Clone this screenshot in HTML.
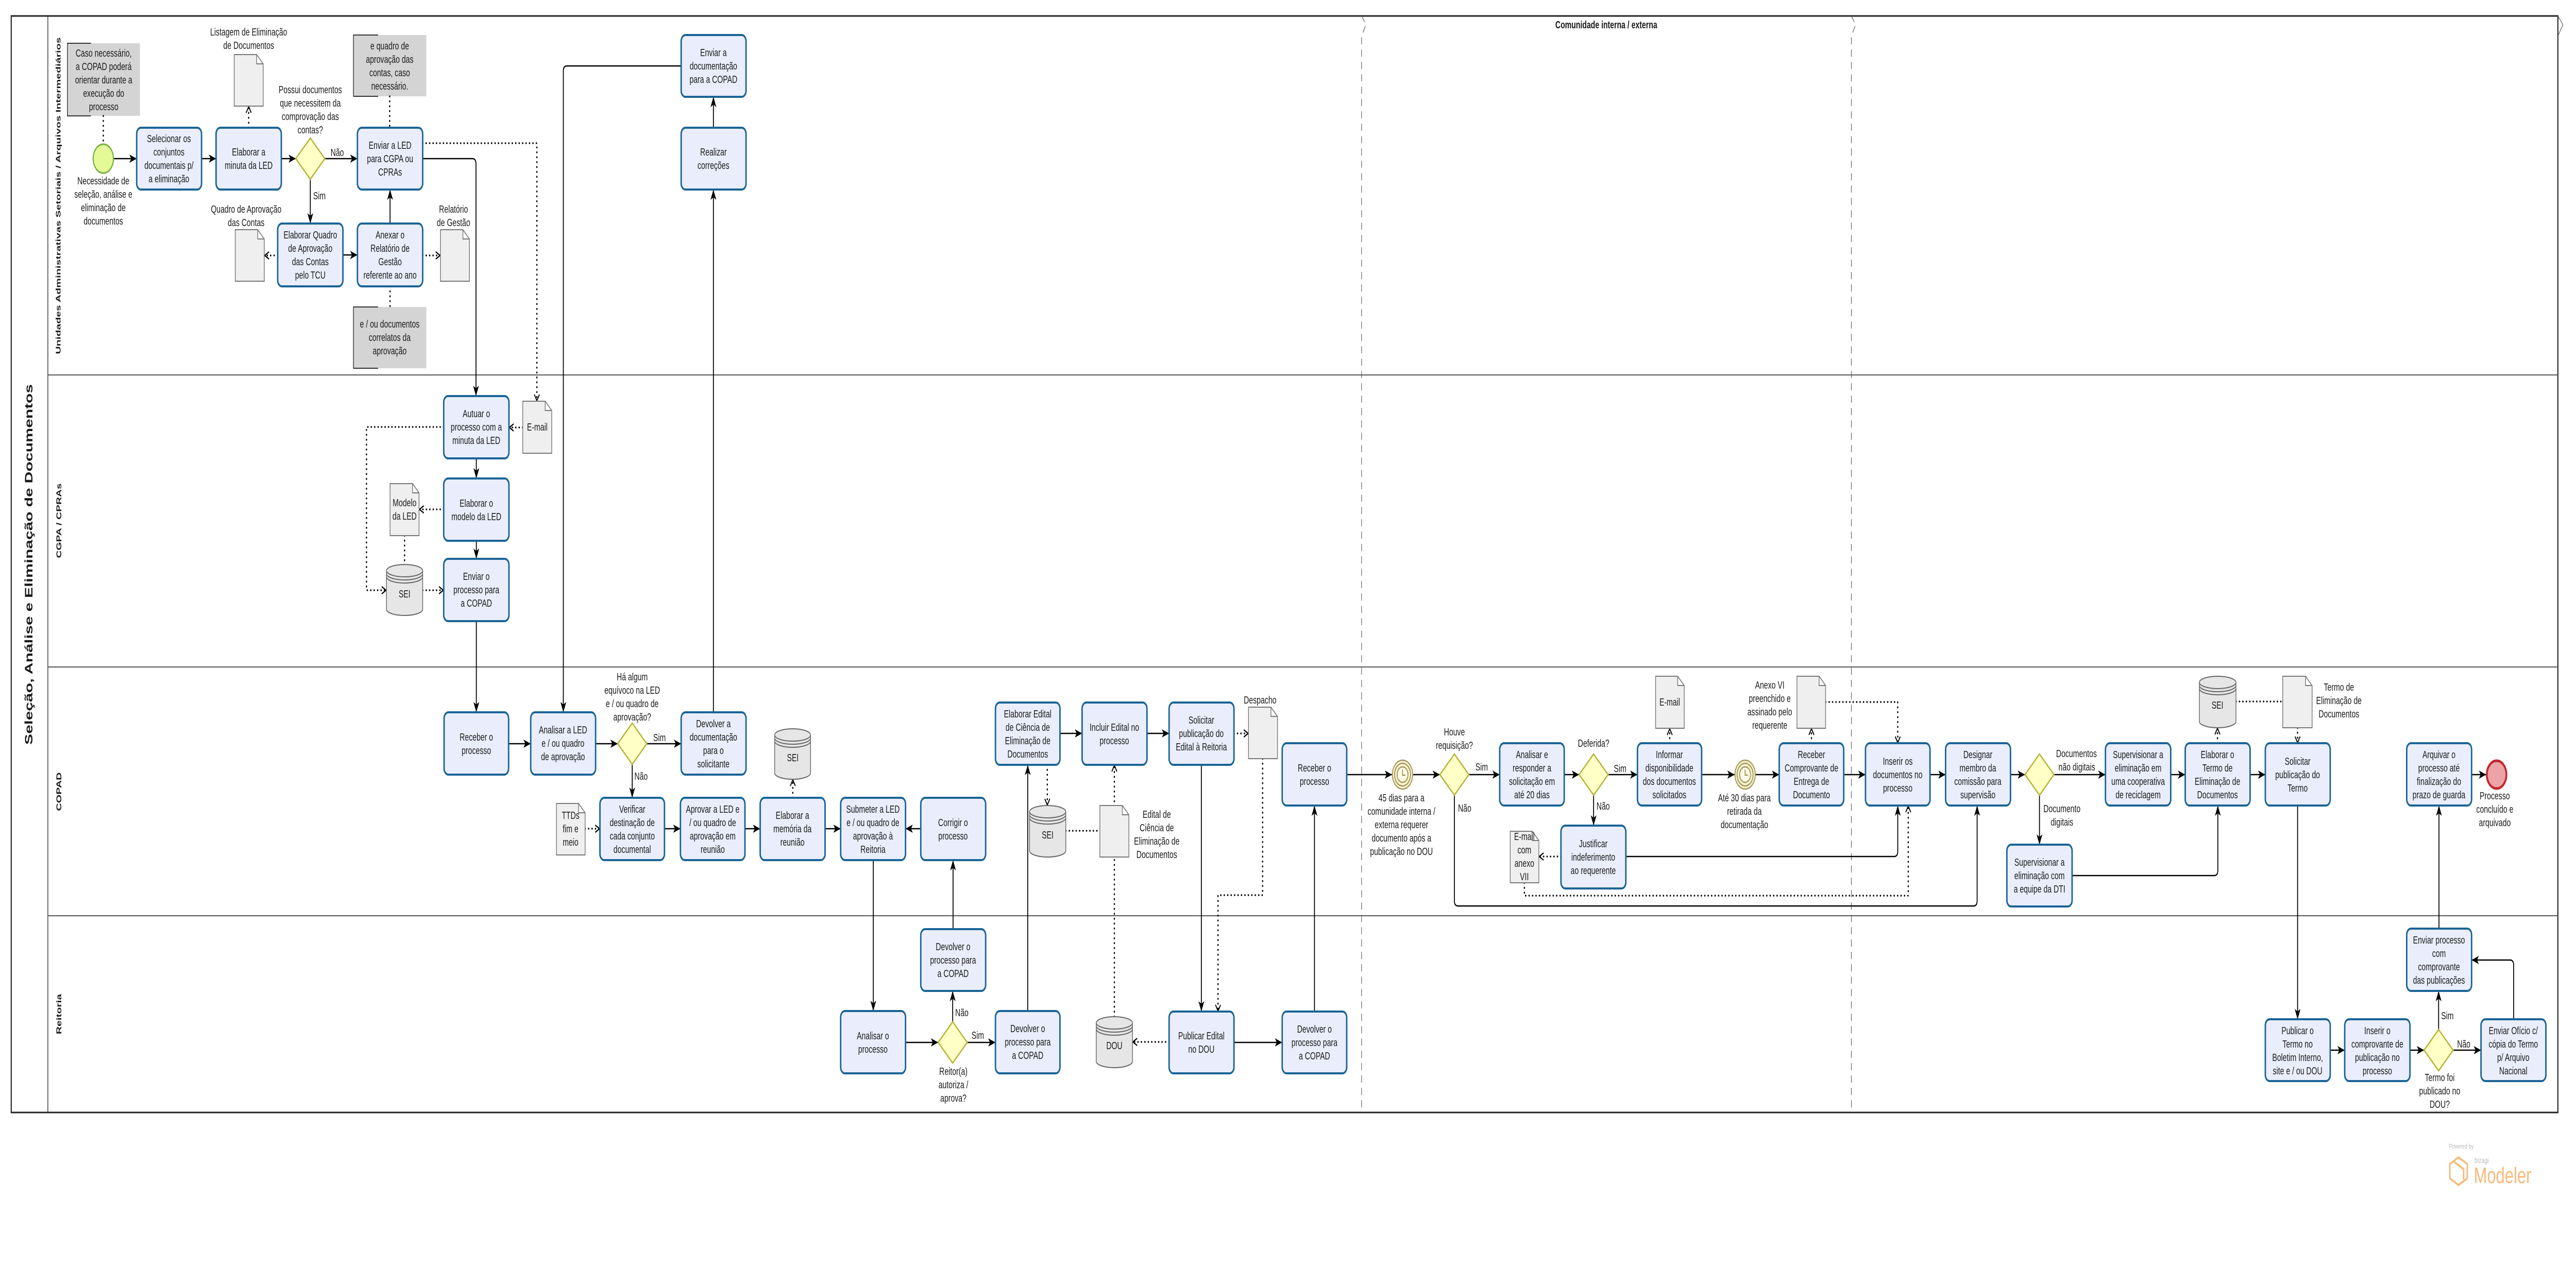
<!DOCTYPE html>
<html><head><meta charset="utf-8"><style>
html,body{margin:0;padding:0;background:#fff;overflow:hidden;width:100%;height:100%}
svg{display:block;width:100vw;height:100vh}
text{font-family:"Liberation Sans",Arial,sans-serif;fill:#1a1a1a}
.t{font-size:20px;text-anchor:middle}
.l{font-size:20px}
.task{fill:#eaeefc;stroke:#1a6496;stroke-width:4}
.gw{fill:#ffffc6;stroke:#b3b232;stroke-width:3}
.doc{fill:#efefef;stroke:#777;stroke-width:2}
.cyl{fill:#e6e6e6;stroke:#666;stroke-width:2}
.f{fill:none;stroke:#000;stroke-width:2.5;marker-end:url(#a)}
.d{fill:none;stroke:#000;stroke-width:3.5;stroke-dasharray:0.5,9;stroke-linecap:round}
.da{fill:none;stroke:#000;stroke-width:3.5;stroke-dasharray:0.5,9;stroke-linecap:round;marker-end:url(#o)}
.ann{fill:#d4d4d4}
.br{fill:none;stroke:#333;stroke-width:2}
</style></head><body>
<svg width="7106" height="2460" viewBox="0 0 7106 2460" preserveAspectRatio="none" xmlns="http://www.w3.org/2000/svg">
<defs>
<marker id="a" viewBox="0 0 20 16" refX="20" refY="8" markerWidth="20" markerHeight="16" markerUnits="userSpaceOnUse" orient="auto"><path d="M0,0 L20,8 L0,16 L5,8z" fill="#000"/></marker>
<marker id="o" viewBox="0 0 14 16" refX="13" refY="8" markerWidth="14" markerHeight="16" markerUnits="userSpaceOnUse" orient="auto"><path d="M1,1 L13,8 L1,15" fill="none" stroke="#000" stroke-width="2.5"/></marker>
</defs>

<rect x="31" y="31" width="7025" height="2129" fill="#fff" stroke="#222" stroke-width="3"/>
<line x1="132" y1="31" x2="132" y2="2160" stroke="#333" stroke-width="2"/>
<g stroke="#555" stroke-width="2">
<line x1="132" y1="728" x2="7056" y2="728"/>
<line x1="132" y1="1295" x2="7056" y2="1295"/>
<line x1="132" y1="1778" x2="7056" y2="1778"/>
</g>
<text transform="translate(80,1096) rotate(-90)" text-anchor="middle" dominant-baseline="central" font-size="30" font-weight="bold" textLength="700" lengthAdjust="spacingAndGlyphs">Seleção, Análise e Eliminação de Documentos</text>
<g font-weight="bold" text-anchor="middle" dominant-baseline="central">
<text transform="translate(162,380) rotate(-90)" font-size="18" textLength="615" lengthAdjust="spacingAndGlyphs">Unidades Administrativas Setoriais / Arquivos Intermediários</text>
<text transform="translate(162,1011) rotate(-90)" font-size="20" textLength="145" lengthAdjust="spacingAndGlyphs">CGPA / CPRAs</text>
<text transform="translate(162,1537) rotate(-90)" font-size="20" textLength="75" lengthAdjust="spacingAndGlyphs">COPAD</text>
<text transform="translate(162,1969) rotate(-90)" font-size="20" textLength="78" lengthAdjust="spacingAndGlyphs">Reitoria</text>
</g>

<g fill="none" stroke="#555" stroke-width="1.5" stroke-dasharray="14,10">
<path d="M3756,31 L3768,48 L3756,70 V2160"/>
<path d="M5107,31 L5119,48 L5107,70 V2160"/>
</g>
<path d="M7056,31 L7070,48 L7056,70" fill="none" stroke="#555" stroke-width="1.5"/>
<text x="4431" y="55" font-size="20" font-weight="bold" text-anchor="middle">Comunidade interna / externa</text>

<rect class="ann" x="186" y="84" width="200" height="141"/>
<path class="br" d="M251,84 H186 V225 H251"/>
<text class="t" y="110"><tspan x="286">Caso necessário,</tspan><tspan x="286" dy="26">a COPAD poderá</tspan><tspan x="286" dy="26">orientar durante a</tspan><tspan x="286" dy="26">execução do</tspan><tspan x="286" dy="26">processo</tspan></text>
<rect class="ann" x="975" y="68" width="201" height="119"/>
<path class="br" d="M1043,68 H975 V187 H1043"/>
<text class="t" y="96"><tspan x="1075">e quadro de</tspan><tspan x="1075" dy="26">aprovação das</tspan><tspan x="1075" dy="26">contas, caso</tspan><tspan x="1075" dy="26">necessário.</tspan></text>
<rect class="ann" x="975" y="596" width="201" height="119"/>
<path class="br" d="M1043,596 H975 V715 H1043"/>
<text class="t" y="636"><tspan x="1075">e / ou documentos</tspan><tspan x="1075" dy="26">correlatos da</tspan><tspan x="1075" dy="26">aprovação</tspan></text>

<path class="d" d="M285,225 V279"/>
<path class="da" d="M686,248 V207"/>
<path class="d" d="M1075,187 V248"/>
<path class="da" d="M766,496 H730"/>
<path class="da" d="M1166,496 H1214"/>
<path class="d" d="M1076,556 V596"/>
<path class="da" d="M1166,278 H1481 V778"/>
<path class="da" d="M1442,830 H1405"/>
<path class="da" d="M1224,989 H1157"/>
<path class="d" d="M1116,1040 V1096"/>
<path class="da" d="M1224,829 H1011 V1146 H1065"/>
<path class="da" d="M1166,1146 H1223"/>
<path class="da" d="M1614,1609 H1654"/>
<path class="da" d="M2187,1549 V1514"/>
<path class="da" d="M2889,1485 V1563"/>
<path class="d" d="M2940,1613 H3034"/>
<path class="da" d="M3074,1974 V1486"/>
<path class="da" d="M3404,1424 H3443"/>
<path class="da" d="M3483,1473 V1738 H3360 V1963"/>
<path class="da" d="M3225,2023 H3125"/>
<path class="da" d="M4606,1443 V1415"/>
<path class="da" d="M4997,1443 V1415"/>
<path class="da" d="M5036,1363 H5235 V1442"/>
<path class="da" d="M4306,1663 H4246"/>
<path class="da" d="M4205,1714 V1739 H5264 V1565"/>
<path class="da" d="M6117,1443 V1414"/>
<path class="d" d="M6168,1362 H6297"/>
<path class="da" d="M6338,1413 V1442"/>

<path class="f" d="M314,308 H377"/>
<path class="f" d="M556,308 H596"/>
<path class="f" d="M776,308 H816"/>
<path class="f" d="M896,308 H986"/>
<path class="f" d="M856,348 V434"/>
<path class="f" d="M946,495 H986"/>
<path class="f" d="M1076,434 V368"/>
<path class="f" d="M1166,308 H1303 Q1313,308 1313,318 V769"/>
<path class="f" d="M1314,890 V929"/>
<path class="f" d="M1314,1050 V1085"/>
<path class="f" d="M1314,1206 V1383"/>
<path class="f" d="M1968,248 V188"/>
<path class="f" d="M1968,1383 V368"/>
<path class="f" d="M1879,128 H1564 Q1554,128 1554,138 V1383"/>
<path class="f" d="M1403,1444 H1464"/>
<path class="f" d="M1643,1444 H1704"/>
<path class="f" d="M1784,1444 H1879"/>
<path class="f" d="M1744,1484 V1549"/>
<path class="f" d="M1833,1609 H1877"/>
<path class="f" d="M2055,1609 H2097"/>
<path class="f" d="M2276,1609 H2319"/>
<path class="f" d="M2540,1609 H2498"/>
<path class="f" d="M2409,1670 V1963"/>
<path class="f" d="M2498,2024 H2588"/>
<path class="f" d="M2628,1984 V1924"/>
<path class="f" d="M2629,1804 V1670"/>
<path class="f" d="M2668,2024 H2746"/>
<path class="f" d="M2835,1963 V1485"/>
<path class="f" d="M2924,1424 H2985"/>
<path class="f" d="M3164,1424 H3225"/>
<path class="f" d="M3314,1485 V1964"/>
<path class="f" d="M3404,2024 H3537"/>
<path class="f" d="M3626,1964 V1564"/>
<path class="f" d="M3715,1504 H3840"/>
<path class="f" d="M3898,1504 H3972"/>
<path class="f" d="M4052,1504 H4137"/>
<path class="f" d="M4315,1504 H4356"/>
<path class="f" d="M4436,1504 H4517"/>
<path class="f" d="M4396,1544 V1603"/>
<path class="f" d="M4694,1504 H4785"/>
<path class="f" d="M4843,1504 H4908"/>
<path class="f" d="M5086,1504 H5146"/>
<path class="f" d="M5324,1504 H5367"/>
<path class="f" d="M4485,1663 H5225 Q5235,1663 5235,1653 V1564"/>
<path class="f" d="M4012,1544 V1749 Q4012,1759 4022,1759 H5444 Q5454,1759 5454,1749 V1564"/>
<path class="f" d="M5546,1504 H5586"/>
<path class="f" d="M5666,1504 H5808"/>
<path class="f" d="M5626,1544 V1640"/>
<path class="f" d="M5988,1504 H6028"/>
<path class="f" d="M6207,1504 H6249"/>
<path class="f" d="M5716,1700 H6108 Q6118,1700 6118,1690 V1564"/>
<path class="f" d="M6338,1564 V1979"/>
<path class="f" d="M6428,2039 H6468"/>
<path class="f" d="M6648,2039 H6687"/>
<path class="f" d="M6767,2039 H6844"/>
<path class="f" d="M6727,1999 V1924"/>
<path class="f" d="M6934,1979 V1874 Q6934,1864 6924,1864 H6818"/>
<path class="f" d="M6728,1803 V1564"/>
<path class="f" d="M6818,1504 H6858"/>

<g class="doc">
<path d="M646,106 h62 l18,18 v82 h-80z M708,106 v18 h18"/>
<path d="M649,446 h62 l18,18 v82 h-80z M711,446 v18 h18"/>
<path d="M1215,446 h62 l18,18 v82 h-80z M1277,446 v18 h18"/>
<path d="M1442,779 h62 l18,18 v83 h-80z M1504,779 v18 h18"/>
<path d="M1076,939 h62 l18,18 v83 h-80z M1138,939 v18 h18"/>
<path d="M1535,1560 h61 l18,18 v82 h-79z M1596,1560 v18 h18"/>
<path d="M3444,1373 h62 l18,18 v82 h-80z M3506,1373 v18 h18"/>
<path d="M3034,1564 h62 l18,18 v82 h-80z M3096,1564 v18 h18"/>
<path d="M4567,1313 h61 l18,18 v83 h-79z M4628,1313 v18 h18"/>
<path d="M4957,1313 h61 l18,18 v83 h-79z M5018,1313 v18 h18"/>
<path d="M4166,1614 h61 l18,18 v82 h-79z M4227,1614 v18 h18"/>
<path d="M6297,1313 h63 l18,18 v82 h-81z M6360,1313 v18 h18"/>
</g>
<text class="t" x="1482" y="836">E-mail</text>
<text class="t" y="983"><tspan x="1116">Modelo</tspan><tspan x="1116" dy="26">da LED</tspan></text>
<text class="t" y="1590"><tspan x="1574">TTDs</tspan><tspan x="1574" dy="26">fim e</tspan><tspan x="1574" dy="26">meio</tspan></text>
<text class="t" x="4606" y="1370">E-mail</text>
<text class="t" y="1631"><tspan x="4205">E-mail</tspan><tspan x="4205" dy="26">com</tspan><tspan x="4205" dy="26">anexo</tspan><tspan x="4205" dy="26">VII</tspan></text>

<g class="cyl">
<path d="M1066,1108 V1183 A50,12 0 0 0 1166,1183 V1108"/><ellipse cx="1116" cy="1108" rx="50" ry="12"/><path d="M1066,1114 A50,12 0 0 0 1166,1114 M1066,1120 A50,12 0 0 0 1166,1120" fill="none"/>
<path d="M2137,1427 V1501 A49.5,12 0 0 0 2236,1501 V1427"/><ellipse cx="2186.5" cy="1427" rx="49.5" ry="12"/><path d="M2137,1433 A49.5,12 0 0 0 2236,1433 M2137,1439 A49.5,12 0 0 0 2236,1439" fill="none"/>
<path d="M2840,1576 V1652 A50,12 0 0 0 2940,1652 V1576"/><ellipse cx="2890" cy="1576" rx="50" ry="12"/><path d="M2840,1582 A50,12 0 0 0 2940,1582 M2840,1588 A50,12 0 0 0 2940,1588" fill="none"/>
<path d="M3024,1986 V2061 A50,12 0 0 0 3124,2061 V1986"/><ellipse cx="3074" cy="1986" rx="50" ry="12"/><path d="M3024,1992 A50,12 0 0 0 3124,1992 M3024,1998 A50,12 0 0 0 3124,1998" fill="none"/>
<path d="M6067,1325 V1401 A50.5,12 0 0 0 6168,1401 V1325"/><ellipse cx="6117.5" cy="1325" rx="50.5" ry="12"/><path d="M6067,1331 A50.5,12 0 0 0 6168,1331 M6067,1337 A50.5,12 0 0 0 6168,1337" fill="none"/>
</g>
<text class="t" x="1116" y="1160">SEI</text>
<text class="t" x="2187" y="1478">SEI</text>
<text class="t" x="2890" y="1628">SEI</text>
<text class="t" x="3074" y="2037">DOU</text>
<text class="t" x="6117" y="1376">SEI</text>

<circle cx="285" cy="308" r="28" fill="#e4fa96" stroke="#72b03c" stroke-width="3"/>
<circle cx="6887" cy="1504" r="27" fill="#eba3a5" stroke="#c1272d" stroke-width="5"/>
<g fill="none" stroke="#a0955a" stroke-width="2.5">
<circle cx="3869" cy="1504" r="28" fill="#f7f2cf"/><circle cx="3869" cy="1504" r="22"/><circle cx="3869" cy="1504" r="15" fill="#fffbe6"/><path d="M3869,1494 V1505 H3877"/>
<circle cx="4814" cy="1504" r="28" fill="#f7f2cf"/><circle cx="4814" cy="1504" r="22"/><circle cx="4814" cy="1504" r="15" fill="#fffbe6"/><path d="M4814,1494 V1505 H4822"/>
</g>

<g class="gw">
<path d="M856,268 L896,308 L856,348 L816,308z"/>
<path d="M1744,1404 L1784,1444 L1744,1484 L1704,1444z"/>
<path d="M2628,1984 L2668,2024 L2628,2064 L2588,2024z"/>
<path d="M4012,1464 L4052,1504 L4012,1544 L3972,1504z"/>
<path d="M4396,1464 L4436,1504 L4396,1544 L4356,1504z"/>
<path d="M5626,1464 L5666,1504 L5626,1544 L5586,1504z"/>
<path d="M6727,1999 L6767,2039 L6727,2079 L6687,2039z"/>
</g>

<g class="task">
<rect x="377" y="248" width="179" height="120" rx="12"/>
<rect x="596" y="248" width="180" height="120" rx="12"/>
<rect x="986" y="248" width="180" height="120" rx="12"/>
<rect x="766" y="434" width="180" height="122" rx="12"/>
<rect x="986" y="434" width="180" height="122" rx="12"/>
<rect x="1224" y="769" width="180" height="121" rx="12"/>
<rect x="1224" y="929" width="180" height="121" rx="12"/>
<rect x="1224" y="1085" width="180" height="121" rx="12"/>
<rect x="1879" y="68" width="179" height="120" rx="12"/>
<rect x="1879" y="248" width="179" height="120" rx="12"/>
<rect x="1225" y="1383" width="178" height="121" rx="12"/>
<rect x="1464" y="1383" width="179" height="121" rx="12"/>
<rect x="1879" y="1383" width="179" height="121" rx="12"/>
<rect x="1655" y="1549" width="178" height="121" rx="12"/>
<rect x="1877" y="1549" width="178" height="121" rx="12"/>
<rect x="2097" y="1549" width="179" height="121" rx="12"/>
<rect x="2319" y="1549" width="179" height="121" rx="12"/>
<rect x="2540" y="1549" width="179" height="121" rx="12"/>
<rect x="2319" y="1963" width="179" height="121" rx="12"/>
<rect x="2540" y="1804" width="179" height="120" rx="12"/>
<rect x="2746" y="1963" width="178" height="121" rx="12"/>
<rect x="2746" y="1364" width="178" height="121" rx="12"/>
<rect x="2985" y="1364" width="179" height="121" rx="12"/>
<rect x="3225" y="1364" width="179" height="121" rx="12"/>
<rect x="3225" y="1964" width="179" height="120" rx="12"/>
<rect x="3537" y="1964" width="178" height="120" rx="12"/>
<rect x="3537" y="1443" width="178" height="121" rx="12"/>
<rect x="4137" y="1443" width="178" height="121" rx="12"/>
<rect x="4517" y="1443" width="177" height="121" rx="12"/>
<rect x="4908" y="1443" width="178" height="121" rx="12"/>
<rect x="5146" y="1443" width="178" height="121" rx="12"/>
<rect x="5367" y="1443" width="179" height="121" rx="12"/>
<rect x="4306" y="1603" width="179" height="122" rx="12"/>
<rect x="5808" y="1443" width="180" height="121" rx="12"/>
<rect x="6028" y="1443" width="179" height="121" rx="12"/>
<rect x="6249" y="1443" width="179" height="121" rx="12"/>
<rect x="5536" y="1640" width="180" height="120" rx="12"/>
<rect x="6639" y="1443" width="179" height="121" rx="12"/>
<rect x="6249" y="1979" width="179" height="120" rx="12"/>
<rect x="6468" y="1979" width="180" height="120" rx="12"/>
<rect x="6844" y="1979" width="179" height="120" rx="12"/>
<rect x="6639" y="1803" width="179" height="121" rx="12"/>
</g>

<text class="t" y="276"><tspan x="466">Selecionar os</tspan><tspan x="466" dy="26">conjuntos</tspan><tspan x="466" dy="26">documentais p/</tspan><tspan x="466" dy="26">a eliminação</tspan></text>
<text class="t" y="302"><tspan x="686">Elaborar a</tspan><tspan x="686" dy="26">minuta da LED</tspan></text>
<text class="t" y="289"><tspan x="1076">Enviar a LED</tspan><tspan x="1076" dy="26">para CGPA ou</tspan><tspan x="1076" dy="26">CPRAs</tspan></text>
<text class="t" y="463"><tspan x="856">Elaborar Quadro</tspan><tspan x="856" dy="26">de Aprovação</tspan><tspan x="856" dy="26">das Contas</tspan><tspan x="856" dy="26">pelo TCU</tspan></text>
<text class="t" y="463"><tspan x="1076">Anexar o</tspan><tspan x="1076" dy="26">Relatório de</tspan><tspan x="1076" dy="26">Gestão</tspan><tspan x="1076" dy="26">referente ao ano</tspan></text>
<text class="t" y="810"><tspan x="1314">Autuar o</tspan><tspan x="1314" dy="26">processo com a</tspan><tspan x="1314" dy="26">minuta da LED</tspan></text>
<text class="t" y="984"><tspan x="1314">Elaborar o</tspan><tspan x="1314" dy="26">modelo da LED</tspan></text>
<text class="t" y="1126"><tspan x="1314">Enviar o</tspan><tspan x="1314" dy="26">processo para</tspan><tspan x="1314" dy="26">a COPAD</tspan></text>
<text class="t" y="109"><tspan x="1968">Enviar a</tspan><tspan x="1968" dy="26">documentação</tspan><tspan x="1968" dy="26">para a COPAD</tspan></text>
<text class="t" y="302"><tspan x="1968">Realizar</tspan><tspan x="1968" dy="26">correções</tspan></text>
<text class="t" y="1438"><tspan x="1314">Receber o</tspan><tspan x="1314" dy="26">processo</tspan></text>
<text class="t" y="1424"><tspan x="1553">Analisar a LED</tspan><tspan x="1553" dy="26">e / ou quadro</tspan><tspan x="1553" dy="26">de aprovação</tspan></text>
<text class="t" y="1412"><tspan x="1968">Devolver a</tspan><tspan x="1968" dy="26">documentação</tspan><tspan x="1968" dy="26">para o</tspan><tspan x="1968" dy="26">solicitante</tspan></text>
<text class="t" y="1578"><tspan x="1744">Verificar</tspan><tspan x="1744" dy="26">destinação de</tspan><tspan x="1744" dy="26">cada conjunto</tspan><tspan x="1744" dy="26">documental</tspan></text>
<text class="t" y="1578"><tspan x="1966">Aprovar a LED e</tspan><tspan x="1966" dy="26">/ ou quadro de</tspan><tspan x="1966" dy="26">aprovação em</tspan><tspan x="1966" dy="26">reunião</tspan></text>
<text class="t" y="1590"><tspan x="2186">Elaborar a</tspan><tspan x="2186" dy="26">memória da</tspan><tspan x="2186" dy="26">reunião</tspan></text>
<text class="t" y="1578"><tspan x="2408">Submeter a LED</tspan><tspan x="2408" dy="26">e / ou quadro de</tspan><tspan x="2408" dy="26">aprovação à</tspan><tspan x="2408" dy="26">Reitoria</tspan></text>
<text class="t" y="1604"><tspan x="2629">Corrigir o</tspan><tspan x="2629" dy="26">processo</tspan></text>
<text class="t" y="2018"><tspan x="2408">Analisar o</tspan><tspan x="2408" dy="26">processo</tspan></text>
<text class="t" y="1845"><tspan x="2629">Devolver o</tspan><tspan x="2629" dy="26">processo para</tspan><tspan x="2629" dy="26">a COPAD</tspan></text>
<text class="t" y="2004"><tspan x="2835">Devolver o</tspan><tspan x="2835" dy="26">processo para</tspan><tspan x="2835" dy="26">a COPAD</tspan></text>
<text class="t" y="1393"><tspan x="2835">Elaborar Edital</tspan><tspan x="2835" dy="26">de Ciência de</tspan><tspan x="2835" dy="26">Eliminação de</tspan><tspan x="2835" dy="26">Documentos</tspan></text>
<text class="t" y="1419"><tspan x="3074">Incluir Edital no</tspan><tspan x="3074" dy="26">processo</tspan></text>
<text class="t" y="1405"><tspan x="3314">Solicitar</tspan><tspan x="3314" dy="26">publicação do</tspan><tspan x="3314" dy="26">Edital à Reitoria</tspan></text>
<text class="t" y="2018"><tspan x="3314">Publicar Edital</tspan><tspan x="3314" dy="26">no DOU</tspan></text>
<text class="t" y="2005"><tspan x="3626">Devolver o</tspan><tspan x="3626" dy="26">processo para</tspan><tspan x="3626" dy="26">a COPAD</tspan></text>
<text class="t" y="1498"><tspan x="3626">Receber o</tspan><tspan x="3626" dy="26">processo</tspan></text>
<text class="t" y="1472"><tspan x="4226">Analisar e</tspan><tspan x="4226" dy="26">responder a</tspan><tspan x="4226" dy="26">solicitação em</tspan><tspan x="4226" dy="26">até 20 dias</tspan></text>
<text class="t" y="1472"><tspan x="4605">Informar</tspan><tspan x="4605" dy="26">disponibilidade</tspan><tspan x="4605" dy="26">dos documentos</tspan><tspan x="4605" dy="26">solicitados</tspan></text>
<text class="t" y="1472"><tspan x="4997">Receber</tspan><tspan x="4997" dy="26">Comprovante de</tspan><tspan x="4997" dy="26">Entrega de</tspan><tspan x="4997" dy="26">Documento</tspan></text>
<text class="t" y="1485"><tspan x="5235">Inserir os</tspan><tspan x="5235" dy="26">documentos no</tspan><tspan x="5235" dy="26">processo</tspan></text>
<text class="t" y="1472"><tspan x="5456">Designar</tspan><tspan x="5456" dy="26">membro da</tspan><tspan x="5456" dy="26">comissão para</tspan><tspan x="5456" dy="26">supervisão</tspan></text>
<text class="t" y="1645"><tspan x="4395">Justificar</tspan><tspan x="4395" dy="26">indeferimento</tspan><tspan x="4395" dy="26">ao requerente</tspan></text>
<text class="t" y="1472"><tspan x="5898">Supervisionar a</tspan><tspan x="5898" dy="26">eliminação em</tspan><tspan x="5898" dy="26">uma cooperativa</tspan><tspan x="5898" dy="26">de reciclagem</tspan></text>
<text class="t" y="1472"><tspan x="6117">Elaborar o</tspan><tspan x="6117" dy="26">Termo de</tspan><tspan x="6117" dy="26">Eliminação de</tspan><tspan x="6117" dy="26">Documentos</tspan></text>
<text class="t" y="1485"><tspan x="6338">Solicitar</tspan><tspan x="6338" dy="26">publicação do</tspan><tspan x="6338" dy="26">Termo</tspan></text>
<text class="t" y="1681"><tspan x="5626">Supervisionar a</tspan><tspan x="5626" dy="26">eliminação com</tspan><tspan x="5626" dy="26">a equipe da DTI</tspan></text>
<text class="t" y="1472"><tspan x="6728">Arquivar o</tspan><tspan x="6728" dy="26">processo até</tspan><tspan x="6728" dy="26">finalização do</tspan><tspan x="6728" dy="26">prazo de guarda</tspan></text>
<text class="t" y="2008"><tspan x="6338">Publicar o</tspan><tspan x="6338" dy="26">Termo no</tspan><tspan x="6338" dy="26">Boletim Interno,</tspan><tspan x="6338" dy="26">site e / ou DOU</tspan></text>
<text class="t" y="2008"><tspan x="6558">Inserir o</tspan><tspan x="6558" dy="26">comprovante de</tspan><tspan x="6558" dy="26">publicação no</tspan><tspan x="6558" dy="26">processo</tspan></text>
<text class="t" y="2008"><tspan x="6933">Enviar Ofício c/</tspan><tspan x="6933" dy="26">cópia do Termo</tspan><tspan x="6933" dy="26">p/ Arquivo</tspan><tspan x="6933" dy="26">Nacional</tspan></text>
<text class="t" y="1832"><tspan x="6728">Enviar processo</tspan><tspan x="6728" dy="26">com</tspan><tspan x="6728" dy="26">comprovante</tspan><tspan x="6728" dy="26">das publicações</tspan></text>

<text class="t" y="358"><tspan x="285">Necessidade de</tspan><tspan x="285" dy="26">seleção, análise e</tspan><tspan x="285" dy="26">eliminação de</tspan><tspan x="285" dy="26">documentos</tspan></text>
<text class="t" y="69"><tspan x="686">Listagem de Eliminação</tspan><tspan x="686" dy="26">de Documentos</tspan></text>
<text class="t" y="181"><tspan x="856">Possui documentos</tspan><tspan x="856" dy="26">que necessitem da</tspan><tspan x="856" dy="26">comprovação das</tspan><tspan x="856" dy="26">contas?</tspan></text>
<text class="l" x="912" y="303">Não</text>
<text class="l" x="864" y="387">Sim</text>
<text class="t" y="413"><tspan x="679">Quadro de Aprovação</tspan><tspan x="679" dy="26">das Contas</tspan></text>
<text class="t" y="413"><tspan x="1251">Relatório</tspan><tspan x="1251" dy="26">de Gestão</tspan></text>
<text class="t" y="1321"><tspan x="1744">Há algum</tspan><tspan x="1744" dy="26">equívoco na LED</tspan><tspan x="1744" dy="26">e / ou quadro de</tspan><tspan x="1744" dy="26">aprovação?</tspan></text>
<text class="l" x="1802" y="1439">Sim</text>
<text class="l" x="1750" y="1514">Não</text>
<text class="l" x="2635" y="1973">Não</text>
<text class="l" x="2680" y="2017">Sim</text>
<text class="t" y="2087"><tspan x="2630">Reitor(a)</tspan><tspan x="2630" dy="26">autoriza /</tspan><tspan x="2630" dy="26">aprova?</tspan></text>
<text class="t" x="3476" y="1366">Despacho</text>
<text class="t" y="1588"><tspan x="3191">Edital de</tspan><tspan x="3191" dy="26">Ciência de</tspan><tspan x="3191" dy="26">Eliminação de</tspan><tspan x="3191" dy="26">Documentos</tspan></text>
<text class="t" y="1556"><tspan x="3866">45 dias para a</tspan><tspan x="3866" dy="26">comunidade interna /</tspan><tspan x="3866" dy="26">externa requerer</tspan><tspan x="3866" dy="26">documento após a</tspan><tspan x="3866" dy="26">publicação no DOU</tspan></text>
<text class="t" y="1428"><tspan x="4012">Houve</tspan><tspan x="4012" dy="26">requisição?</tspan></text>
<text class="l" x="4070" y="1496">Sim</text>
<text class="l" x="4022" y="1576">Não</text>
<text class="t" x="4396" y="1450">Deferida?</text>
<text class="l" x="4452" y="1499">Sim</text>
<text class="l" x="4404" y="1572">Não</text>
<text class="t" y="1556"><tspan x="4812">Até 30 dias para</tspan><tspan x="4812" dy="26">retirada da</tspan><tspan x="4812" dy="26">documentação</tspan></text>
<text class="t" y="1337"><tspan x="4882">Anexo VI</tspan><tspan x="4882" dy="26">preenchido e</tspan><tspan x="4882" dy="26">assinado pelo</tspan><tspan x="4882" dy="26">requerente</tspan></text>
<text class="t" y="1470"><tspan x="5728">Documentos</tspan><tspan x="5729" dy="26">não digitais</tspan></text>
<text class="t" y="1577"><tspan x="5688">Documento</tspan><tspan x="5688" dy="26">digitais</tspan></text>
<text class="t" y="1341"><tspan x="6452">Termo de</tspan><tspan x="6452" dy="26">Eliminação de</tspan><tspan x="6452" dy="26">Documentos</tspan></text>
<text class="t" y="1552"><tspan x="6882">Processo</tspan><tspan x="6882" dy="26">concluído e</tspan><tspan x="6882" dy="26">arquivado</tspan></text>
<text class="l" x="6778" y="2034">Não</text>
<text class="l" x="6734" y="1979">Sim</text>
<text class="t" y="2099"><tspan x="6730">Termo foi</tspan><tspan x="6730" dy="26">publicado no</tspan><tspan x="6730" dy="26">DOU?</tspan></text>

<text x="6755" y="2230" font-size="13" style="fill:#bbb">Powered by</text>
<path d="M6782,2247 L6806,2260 L6806,2288 L6782,2301 L6758,2288 L6758,2260z M6770,2256 L6796,2270 L6796,2290" fill="none" stroke="#f6b97a" stroke-width="4"/>
<text x="6826" y="2258" font-size="15" style="fill:#bbb">bizagi</text>
<text x="6824" y="2297" font-size="44" style="fill:#f6b97a">Modeler</text>
</svg>
</body></html>
